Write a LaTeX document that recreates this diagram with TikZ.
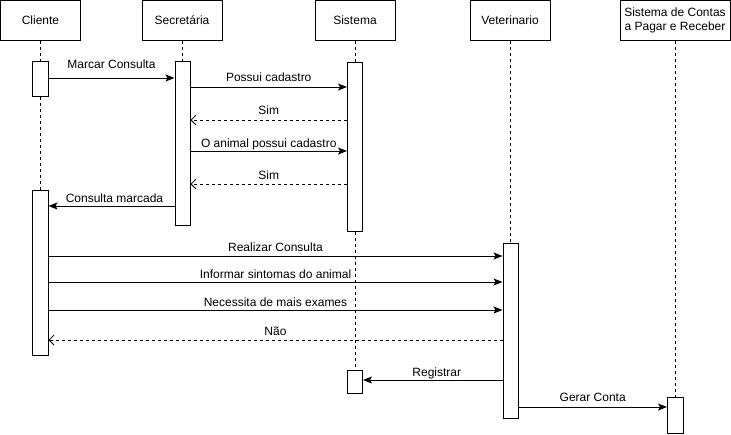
\documentclass[tikz,border=0pt]{standalone}
\usepackage{fontspec}
\setmainfont{Liberation Sans}
\usetikzlibrary{arrows.meta}
\newcommand{\lblfont}{\fontsize{12}{14}\selectfont}
\begin{document}
\begin{tikzpicture}[x=1pt,y=-1pt,
 head/.style={draw, line width=1pt, minimum width=80pt, minimum height=40pt, inner sep=0pt, align=center, font=\lblfont},
 act/.style={draw, fill=white, line width=1pt, minimum width=15pt, inner sep=0pt},
 life/.style={dash pattern=on 3pt off 3pt, line width=0.8pt},
 msg/.style={line width=0.9pt, -{Stealth[length=9pt,width=7pt,inset=2pt]}},
 ret/.style={line width=0.8pt, dash pattern=on 3pt off 3pt, -{Straight Barb[length=5pt,width=10pt]}},
 lbl/.style={font=\lblfont, inner sep=0pt}]
\useasboundingbox (0,0) rectangle (731,434);
% headers
\node[head] (cli) at (40.5,20) {Cliente};
\node[head] (sec) at (182,20) {Secretária};
\node[head] (sis) at (355,20) {Sistema};
\node[head] (vet) at (510,20) {Veterinario};
\node[head, minimum width=110pt] (con) at (675,20) {Sistema de Contas\\a Pagar e Receber};
% activations
\node[act, minimum width=16pt, minimum height=35pt] (ca1) at (40,78.5) {};
\node[act, minimum width=16pt, minimum height=165pt] (ca2) at (40,272.5) {};
\node[act, minimum height=164pt] (sa) at (182.5,143) {};
\node[act, minimum height=169pt] (ya1) at (355,146.5) {};
\node[act, minimum height=23pt] (ya2) at (355,381.5) {};
\node[act, minimum height=175pt] (va) at (510.5,330.5) {};
\node[act, minimum width=16pt, minimum height=36pt] (ka) at (675.5,415) {};
% lifelines
\draw[life] (cli.south -| ca1.north) -- (ca1.north);
\draw[life] (ca1.south) -- (ca2.north);
\draw[life] (sec.south -| sa.north) -- (sa.north);
\draw[life] (sis.south -| ya1.north) -- (ya1.north);
\draw[life] (ya1.south) -- (ya2.north);
\draw[life] (vet.south -| va.north) -- (va.north);
\draw[life] (con.south -| ka.north) -- (ka.north);
% messages
\draw[msg] (ca1.east |- 0,78) -- (sa.west |- 0,78) node[lbl, midway, yshift=14pt] {Marcar Consulta};
\draw[msg] (sa.east |- 0,87) -- (ya1.west |- 0,87) node[lbl, midway, yshift=10pt] {Possui cadastro};
\draw[ret] (ya1.west |- 0,120) -- (sa.east |- 0,120) node[lbl, midway, yshift=10pt] {Sim};
\draw[msg] (sa.east |- 0,151) -- (ya1.west |- 0,151) node[lbl, midway, yshift=7pt] {O animal possui cadastro};
\draw[ret] (ya1.west |- 0,184) -- (sa.east |- 0,184) node[lbl, midway, yshift=9pt] {Sim};
\draw[msg] (sa.west |- 0,206) -- (ca2.east |- 0,206) node[lbl, midway, xshift=3pt, yshift=8pt] {Consulta marcada};
\draw[msg] (ca2.east |- 0,256) -- (va.west |- 0,256) node[lbl, midway, yshift=9pt] {Realizar Consulta};
\draw[msg] (ca2.east |- 0,282) -- (va.west |- 0,282) node[lbl, midway, yshift=8pt] {Informar sintomas do animal};
\draw[msg] (ca2.east |- 0,310) -- (va.west |- 0,310) node[lbl, midway, yshift=8pt] {Necessita de mais exames};
\draw[ret] (va.west |- 0,340) -- (ca2.east |- 0,340) node[lbl, midway, yshift=9pt] {Não};
\draw[msg] (va.west |- 0,380) -- (ya2.east |- 0,380) node[lbl, midway, xshift=4pt, yshift=7pt] {Registrar};
\draw[msg] (va.east |- 0,407) -- (ka.west |- 0,407) node[lbl, midway, yshift=10pt] {Gerar Conta};
\end{tikzpicture}
\end{document}
